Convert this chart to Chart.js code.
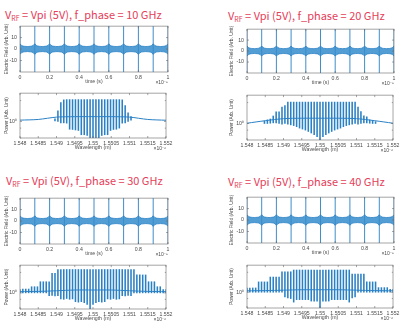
<!DOCTYPE html>
<html>
<head>
<meta charset="utf-8">
<script src="https://cdn.jsdelivr.net/npm/chart.js@4.4.1/dist/chart.umd.min.js"></script>
<style>
html, body { margin: 0; padding: 0; background: #fff; }
#fig { position: relative; width: 402px; height: 327px; overflow: hidden; background: #fff; }
#fig canvas { position: absolute; }
.ttl { position: absolute; color: #e5405a; font-family: "Noto Sans CJK KR", "Noto Sans", sans-serif;
       font-size: 11px; line-height: 1; white-space: nowrap; }
.ttl sub { font-size: 7px; vertical-align: -2px; line-height: 0; }
</style>
</head>
<body>
<div id="fig">
  <div class="ttl" style="left:5px;top:9px">V<sub>RF</sub> = Vpi (5V), f_phase = 10 GHz</div>
  <div class="ttl" style="left:228px;top:9.5px">V<sub>RF</sub> = Vpi (5V), f_phase = 20 GHz</div>
  <div class="ttl" style="left:6px;top:174.5px">V<sub>RF</sub> = Vpi (5V), f_phase = 30 GHz</div>
  <div class="ttl" style="left:228px;top:176px">V<sub>RF</sub> = Vpi (5V), f_phase = 40 GHz</div>
  <canvas id="time10"></canvas>
  <canvas id="spec10"></canvas>
  <canvas id="time20"></canvas>
  <canvas id="spec20"></canvas>
  <canvas id="time30"></canvas>
  <canvas id="spec30"></canvas>
  <canvas id="time40"></canvas>
  <canvas id="spec40"></canvas>
</div>
<script>
// ---- time domain (ns): pulse positions and the field envelope, every 0.01 ns
var pulseTimes = [0, 0.1, 0.2, 0.3, 0.4, 0.5, 0.6, 0.7, 0.8, 0.9, 1.0];
var pulsePeak = 20;
var fieldEnvelope = [
  4.6, 3.2, 2.6, 2.4, 2.3, 2.2, 2.3, 2.4, 2.6, 3.2,
  4.6, 3.2, 2.6, 2.4, 2.3, 2.2, 2.3, 2.4, 2.6, 3.2,
  4.6, 3.2, 2.6, 2.4, 2.3, 2.2, 2.3, 2.4, 2.6, 3.2,
  4.6, 3.2, 2.6, 2.4, 2.3, 2.2, 2.3, 2.4, 2.6, 3.2,
  4.6, 3.2, 2.6, 2.4, 2.3, 2.2, 2.3, 2.4, 2.6, 3.2,
  4.6, 3.2, 2.6, 2.4, 2.3, 2.2, 2.3, 2.4, 2.6, 3.2,
  4.6, 3.2, 2.6, 2.4, 2.3, 2.2, 2.3, 2.4, 2.6, 3.2,
  4.6, 3.2, 2.6, 2.4, 2.3, 2.2, 2.3, 2.4, 2.6, 3.2,
  4.6, 3.2, 2.6, 2.4, 2.3, 2.2, 2.3, 2.4, 2.6, 3.2,
  4.6, 3.2, 2.6, 2.4, 2.3, 2.2, 2.3, 2.4, 2.6, 3.2,
  4.6
];
var timeTicks = [0, 0.2, 0.4, 0.6, 0.8, 1];

// ---- spectra (wavelength in um, power arb. unit)
var combCenter = 1.55;
var combSpacing = 0.0000801;   // 10 GHz line spacing
var wlTicks = [1.548, 1.5485, 1.549, 1.5495, 1.55, 1.5505, 1.551, 1.5515, 1.552];
var baseWl = [1.548, 1.5485, 1.549, 1.5495, 1.55, 1.5505, 1.551, 1.5515, 1.552];

var base10 = [1.11, 1.17, 1.4, 1.45, 1.45, 1.45, 1.4, 1.17, 1.1];
var top10 = [1.23, 2.29, 4.27,
  5.3, 5.4, 5.4, 5.4, 5.4, 5.4, 5.4, 5.4, 5.4, 5.4, 5.4, 5.4, 5.4, 5.4, 5.4, 5.4, 5.4, 5.4, 5.4, 5.4, 5.3,
  3.39, 1.95, 1.45];
var bottom10 = [1.05, 1.0, 0.9, 0.9, 0.88, 0.55, 0.54, 0.52, 0.5, 0.36, 0.36, 0.34, 0.2,
  0.15,
  0.2, 0.25, 0.34, 0.36, 0.36, 0.5, 0.54, 0.55, 0.6, 0.88, 0.9, 1.0, 1.1];

var base20 = [1.02, 1.24, 1.45, 1.5, 1.5, 1.5, 1.45, 1.24, 1.02];
var top20 = [1.2, 1.32, 1.41, 1.78, 2.45, 2.45, 3.55, 3.98,
  5.2, 5.2, 5.2, 5.2, 5.2, 5.2, 5.2, 5.2, 5.2, 5.2, 5.2, 5.2, 5.2, 5.2, 5.2, 5.2, 5.2, 5.2, 5.2, 5.2, 5.2, 5.2, 5.2, 5.2,
  3.55, 2.5, 1.8, 1.66, 1.32, 1.26, 1.15];
var bottom20 = [1.0, 1.0, 1.02, 1.05, 1.05, 1.0, 0.95,
  1.0, 0.95, 0.9, 0.85, 0.78, 0.7, 0.65, 0.6, 0.54, 0.48, 0.42, 0.36,
  0.22,
  0.36, 0.42, 0.48, 0.54, 0.6, 0.65, 0.7, 0.78, 0.85, 0.9, 0.95, 1.0,
  0.95, 1.0, 1.05, 1.05, 1.02, 1.0, 1.0];

var base30 = [1.1, 1.12, 1.18, 1.25, 1.25, 1.25, 1.18, 1.12, 1.1];
var top30 = [1.3, 1.35, 1.35, 1.35, 1.62, 1.62, 1.62, 2.4, 2.4, 2.4, 2.4, 4.7, 4.7,
  6.3, 6.3, 6.3, 6.3, 6.3, 6.3, 6.3, 6.3, 6.3, 6.3, 6.3, 6.3, 6.3, 6.3, 6.3, 6.3, 6.3, 6.3, 6.3, 6.3, 6.3, 6.3, 6.3, 6.3, 6.3, 6.3, 6.3,
  4.1, 4.1, 4.1, 4.1, 2.4, 2.4, 2.4, 1.62, 1.62, 1.3, 1.3];
var bottom30 = [1.0, 1.0, 1.0, 1.0, 1.0, 1.0, 1.0, 1.0, 1.0, 1.0, 0.8, 0.82, 0.78, 0.8,
  0.62, 0.6, 0.64, 0.6, 0.62, 0.5, 0.48, 0.5, 0.46, 0.4,
  0.18,
  0.4, 0.46, 0.5, 0.48, 0.5, 0.62, 0.6, 0.64, 0.6, 0.62, 0.8, 0.78, 0.82, 0.8,
  1.0, 1.0, 1.0, 1.0, 1.0, 1.0, 1.0, 1.0, 1.0, 1.0, 1.0, 1.0];

var base40 = [1.12, 1.14, 1.18, 1.22, 1.22, 1.22, 1.18, 1.14, 1.12];
var top40 = [1.41, 1.41, 1.41, 1.41, 2.3, 2.3, 2.3, 2.3, 3.4, 3.4, 3.4, 3.4, 5.2, 5.2, 5.2, 5.2,
  6.0, 6.0, 6.0, 6.0, 6.0, 6.0, 6.0, 6.0, 6.0, 6.0, 6.0, 6.0, 6.0, 6.0, 6.0, 6.0, 6.0, 6.0, 6.0, 6.0,
  4.3, 4.3, 4.3, 4.3, 4.3, 2.3, 2.3, 2.3, 2.3, 1.45, 1.45, 1.45, 1.45, 1.25, 1.25];
var bottom40 = [1.0, 1.0, 1.0, 1.0, 1.0, 1.0, 1.0, 1.0, 1.0, 1.0, 1.0, 1.0, 1.0,
  0.68, 0.63, 0.6, 0.45, 0.55, 0.55, 0.55, 0.55, 0.55, 0.49, 0.49, 0.49,
  0.15,
  0.49, 0.49, 0.49, 0.55, 0.55, 0.55, 0.55, 0.55, 0.55, 0.45, 0.63, 0.68,
  1.0, 1.0, 1.0, 1.0, 1.0, 1.0, 1.0, 1.0, 1.0, 1.0, 1.0, 1.0, 1.0];

var blue = '#2a80c4';
var axisColor = '#6a6a6a';
var labelColor = '#4a4a4a';
var fontFamily = '"Liberation Sans", Arial, sans-serif';

// box around the axes with inward ticks, plus the MATLAB-style exponent label
var framePlugin = {
  id: 'frame',
  afterDraw: function (chart, args, opts) {
    var ctx = chart.ctx, a = chart.chartArea;
    var xs = chart.scales.x, ys = chart.scales.y;
    ctx.save();
    ctx.strokeStyle = axisColor;
    ctx.lineWidth = 0.6;
    ctx.strokeRect(a.left, a.top, a.right - a.left, a.bottom - a.top);
    ctx.beginPath();
    xs.ticks.forEach(function (t) {
      var px = xs.getPixelForValue(t.value);
      ctx.moveTo(px, a.bottom); ctx.lineTo(px, a.bottom - 2);
      ctx.moveTo(px, a.top); ctx.lineTo(px, a.top + 2);
    });
    ys.ticks.forEach(function (t) {
      var py = ys.getPixelForValue(t.value);
      var len = (opts.log && t.value !== 1) ? 1.2 : 2;
      ctx.moveTo(a.left, py); ctx.lineTo(a.left + len, py);
      ctx.moveTo(a.right, py); ctx.lineTo(a.right - len, py);
    });
    ctx.stroke();
    ctx.fillStyle = labelColor;
    ctx.font = '5px ' + fontFamily;
    ctx.textAlign = 'right';
    ctx.textBaseline = 'middle';
    ctx.fillText(opts.exponent, a.right, a.bottom + 11);
    ctx.restore();
  }
};

function place(id, L, R, T, B, xH) {
  var c = document.getElementById(id);
  c.width = R - L + 27;
  c.height = B - T + 6 + xH;
  c.style.left = (L - 20) + 'px';
  c.style.top = (T - 6) + 'px';
  return c;
}

function commonScales(xTitle, yTitle, xH, yTitlePad) {
  return {
    x: {
      type: 'linear', offset: false,
      grid: { display: false, drawTicks: false },
      border: { display: false },
      ticks: { color: labelColor, font: { family: fontFamily, size: 5.2 }, padding: 2.5, maxRotation: 0, autoSkip: false },
      title: { display: true, text: xTitle, color: labelColor, font: { family: fontFamily, size: 5.2 },
               padding: { top: 0, bottom: xH - 10 - 3.1 } },
      afterFit: function (s) { s.height = xH; }
    },
    y: {
      grid: { display: false, drawTicks: false },
      border: { display: false },
      ticks: { color: labelColor, font: { family: fontFamily, size: 5.2 }, padding: 3 },
      title: { display: true, text: yTitle, color: labelColor, font: { family: fontFamily, size: 4.8 },
               padding: { top: yTitlePad, bottom: 0 } },
      afterFit: function (s) { s.width = 20; }
    }
  };
}

function timeChart(id, L, R, T, B, yTitlePad) {
  var xH = 18;
  var canvas = place(id, L, R, T, B, xH);
  var upper = [], lower = [], spikes = [];
  fieldEnvelope.forEach(function (v, i) {
    upper.push({ x: i / 100, y: v });
    lower.push({ x: i / 100, y: -v });
  });
  pulseTimes.forEach(function (t) {
    spikes.push({ x: t, y: -pulsePeak }, { x: t, y: pulsePeak }, { x: t, y: null });
  });
  var scales = commonScales('time (s)', 'Electric Field (Arb. Unit)', xH, yTitlePad);
  scales.x.min = 0; scales.x.max = 1;
  scales.x.afterBuildTicks = function (s) { s.ticks = timeTicks.map(function (v) { return { value: v }; }); };
  scales.x.ticks.callback = function (v) { return String(+v.toFixed(1)); };
  scales.y.min = -20; scales.y.max = 20;
  scales.y.afterBuildTicks = function (s) { s.ticks = [{ value: -10 }, { value: 0 }, { value: 10 }]; };
  return new Chart(canvas, {
    type: 'line',
    data: {
      datasets: [
        { data: lower, borderColor: blue, borderWidth: 0.8, pointRadius: 0, fill: false },
        { data: upper, borderColor: blue, borderWidth: 0.8, pointRadius: 0, fill: '-1', backgroundColor: 'rgba(52,140,205,0.85)' },
        { data: spikes, borderColor: blue, borderWidth: 0.9, pointRadius: 0, spanGaps: false, fill: false }
      ]
    },
    options: {
      responsive: false, animation: false, devicePixelRatio: 1,
      layout: { padding: { left: 0, top: 6, right: 7, bottom: 0 } },
      plugins: { legend: { display: false }, tooltip: { enabled: false }, frame: { exponent: '\u00d710\u207b\u2079', log: false } },
      scales: scales
    },
    plugins: [framePlugin]
  });
}

function specChart(id, L, R, T, B, base, tops, bottoms, yTitlePad) {
  var xH = 20;
  var canvas = place(id, L, R, T, B, xH);
  var half = (tops.length - 1) / 2;
  var comb = tops.map(function (v, k) {
    return { x: combCenter + (k - half) * combSpacing, y: [bottoms[k], v] };
  });
  var baseline = baseWl.map(function (w, k) { return { x: w, y: base[k] }; });
  var scales = commonScales('Wavelength (m)', 'Power (Arb. Unit)', xH, yTitlePad);
  scales.x.min = 1.548; scales.x.max = 1.552;
  scales.x.afterBuildTicks = function (s) { s.ticks = wlTicks.map(function (v) { return { value: v }; }); };
  scales.x.ticks.callback = function (v) { return String(+v.toFixed(4)); };
  scales.y.type = 'logarithmic';
  scales.y.min = 0.28; scales.y.max = 8.9;
  scales.y.ticks.callback = function (v) { return v === 1 ? '10\u2070' : ''; };
  return new Chart(canvas, {
    type: 'bar',
    data: {
      datasets: [
        { type: 'line', data: baseline, borderColor: blue, borderWidth: 1, pointRadius: 0, tension: 0.3 },
        { type: 'bar', data: comb, backgroundColor: blue, barThickness: 0.9, grouped: false }
      ]
    },
    options: {
      responsive: false, animation: false, devicePixelRatio: 1,
      layout: { padding: { left: 0, top: 6, right: 7, bottom: 0 } },
      plugins: { legend: { display: false }, tooltip: { enabled: false }, frame: { exponent: '\u00d710\u207b\u2076', log: true } },
      scales: scales
    },
    plugins: [framePlugin]
  });
}

timeChart('time10', 20, 168, 26, 72, 3.5);
specChart('spec10', 20, 168, 93, 138, base10, top10, bottom10, 3.5);
timeChart('time20', 247, 394, 29, 73, 1.5);
specChart('spec20', 247, 395, 95, 140, base20, top20, bottom20, 1.5);
timeChart('time30', 20, 168, 198, 244, 3.5);
specChart('spec30', 20, 168, 265, 309, base30, top30, bottom30, 3.5);
timeChart('time40', 247, 394, 197, 243, 1.5);
specChart('spec40', 247, 395, 265, 308, base40, top40, bottom40, 1.5);
</script>
</body>
</html>
